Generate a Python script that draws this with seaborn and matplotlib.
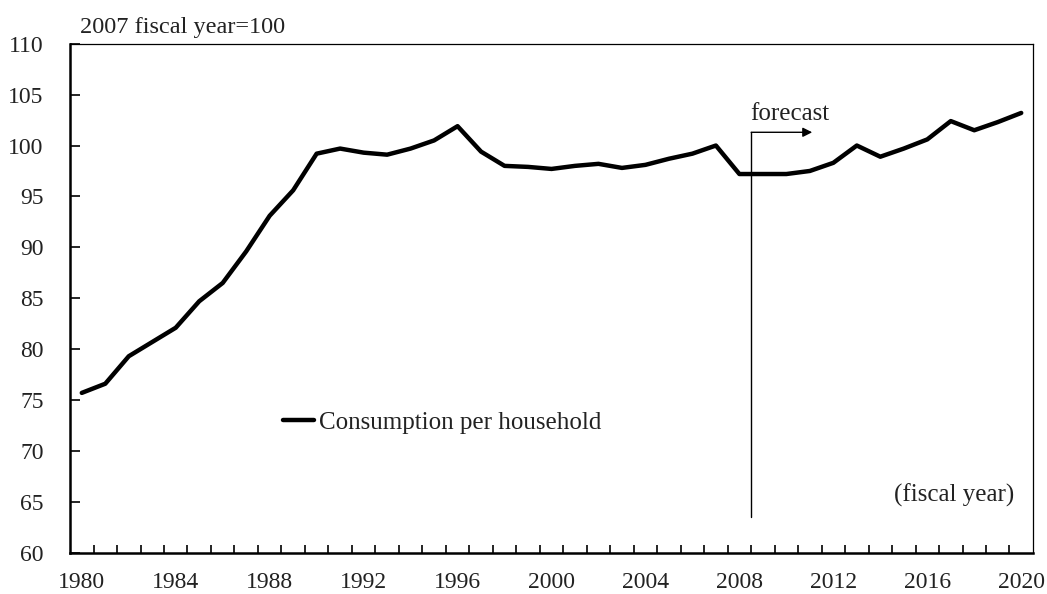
import numpy as np
import pandas as pd
import matplotlib
matplotlib.use("Agg")
import matplotlib.pyplot as plt
import seaborn as sns

# datos (2007 = 100)
years = list(range(1980, 2021))
consumption = [75.7, 76.6, 79.3, 80.7, 82.1, 84.7, 86.5, 89.6, 93.1, 95.6,
               99.2, 99.7, 99.3, 99.1, 99.7, 100.5, 101.9, 99.4, 98.0, 97.9,
               97.7, 98.0, 98.2, 97.8, 98.1, 98.7, 99.2, 100.0, 97.2, 97.2,
               97.2, 97.5, 98.3, 100.0, 98.9, 99.7, 100.6, 102.4, 101.5, 102.3,
               103.2]
year_labels = list(range(1980, 2021, 4))
y_ticks = list(range(60, 111, 5))

# marca de pronostico
forecast_x = 2008.5
forecast_y0 = 63.5
forecast_y1 = 101.3
forecast_arrow_end = 2011.1

df = pd.DataFrame({"year": years, "Consumption per household": consumption})

sns.set_style("white")
plt.rcParams["font.family"] = ["Liberation Serif", "DejaVu Serif"]
plt.rcParams["font.size"] = 17

fig = plt.figure(figsize=(10.47, 5.94), dpi=100)
ax = fig.add_axes([0.0669, 0.0695, 0.9197, 0.8569])

sns.lineplot(data=df, x="year", y="Consumption per household", ax=ax,
             color="black", linewidth=3.2, label="Consumption per household")

# linea vertical y flecha de pronostico
ax.plot([forecast_x, forecast_x], [forecast_y0, forecast_y1], color="black", lw=1)
ax.annotate("", xy=(forecast_arrow_end, forecast_y1), xytext=(forecast_x, forecast_y1),
            arrowprops=dict(arrowstyle="-|>", color="black", lw=1, mutation_scale=14,
                            shrinkA=0, shrinkB=0))
ax.text(forecast_x - 0.05, forecast_y1 + 0.7, "forecast", ha="left", va="bottom",
        fontsize=18, color="#222222")

ax.set_xlim(1979.5, 2020.5)
ax.set_ylim(60, 110)
ax.set_yticks(y_ticks)
ax.set_xticks(year_labels)
ax.set_xticks([y + 0.5 for y in years[:-1]], minor=True)
ax.tick_params(axis="x", which="major", bottom=True, length=0, pad=14, labelsize=17,
               labelcolor="#222222")
ax.tick_params(axis="x", which="minor", bottom=True, direction="in", length=6, width=1.2,
               color="black")
ax.tick_params(axis="y", left=True, direction="in", length=7, width=1.2, color="black",
               pad=19, labelsize=17, labelcolor="#222222")
ax.set_xlabel("")
ax.set_ylabel("")

for side in ["left", "bottom"]:
    ax.spines[side].set_linewidth(1.8)
    ax.spines[side].set_color("black")
for side in ["top", "right"]:
    ax.spines[side].set_linewidth(0.9)
    ax.spines[side].set_color("black")

leg = ax.legend(loc="center left", bbox_to_anchor=(0.221, 0.255), frameon=False,
                handlelength=1.25, handletextpad=0.2, borderpad=0, borderaxespad=0,
                fontsize=18)
for t in leg.get_texts():
    t.set_color("#222222")

ax.text(0.981, 0.113, "(fiscal year)", transform=ax.transAxes, ha="right", va="center",
        fontsize=18, color="#222222")
fig.text(0.0764, 0.953, "2007 fiscal year=100", ha="left", va="center",
         fontsize=17.5, color="#222222")

plt.savefig("out.png", dpi=100)
